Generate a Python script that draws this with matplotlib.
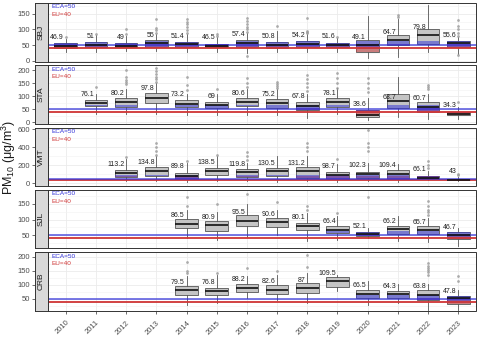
import matplotlib
matplotlib.use("Agg")
import matplotlib.pyplot as plt
from matplotlib.patches import Rectangle

plt.rcParams['font.family'] = ['Liberation Sans', 'DejaVu Sans']
plt.rcParams['mathtext.fontset'] = 'custom'
plt.rcParams['mathtext.rm'] = 'Liberation Sans'

years = list(range(2010, 2024))
stations = ['SBJ', 'STA', 'VMT', 'SJL', 'CRB']

# (whislo, q1, median, q3, whishi) per year, None = no data
sbj_box = [(28, 42, 47, 58, 70), (28, 45, 50, 60, 82), (32, 43, 48, 58, 80), (32, 45, 56, 65, 86),
           (28, 43, 53, 60, 86), (28, 43, 47, 55, 75), (25, 45, 56, 65, 88), (28, 41, 50, 60, 95),
           (27, 45, 55, 62, 84), (28, 45, 50, 58, 72), (8, 27, 50, 67, 142), (12, 50, 66, 81, 132),
           (29, 53, 81, 102, 178), (22, 45, 56, 62, 76)]
sbj_mean = [46.9, 51, 49, 55, 51.4, 46.5, 57.4, 50.8, 54.2, 51.6, 49.1, 64.7, 79.8, 55.6]
sbj_out = [[75], [85], [84, 102], [90, 98, 106, 134], [88, 98, 109, 117, 125, 134], [78, 87],
           [17, 92, 100, 108, 118, 128, 137], [112], [88, 92, 95, 137], [77], [], [140, 147], [], [19, 79, 90, 100, 112, 131]]

sta_box = [None, (33, 62, 73, 85, 107), (33, 60, 79, 93, 126), (33, 73, 95, 111, 151),
           (27, 58, 72, 85, 110), (30, 56, 67, 80, 107), (30, 64, 79, 93, 126), (30, 56, 73, 89, 126),
           (18, 46, 62, 79, 107), (33, 58, 77, 93, 132), (8, 21, 27, 46, 95), (22, 56, 83, 107, 175),
           (15, 40, 58, 77, 110), (15, 27, 32, 40, 60)]
sta_mean = [None, 76.1, 80.2, 97.8, 73.2, 69, 80.6, 75.2, 67.8, 78.1, 38.6, 63.7, 60.7, 34.3]
sta_out = [[], [136], [145, 155, 163, 172, 200], [155, 165, 175, 185, 196, 206], [125, 144, 175], [128],
           [135, 150, 170], [130, 138, 146, 153], [120, 135, 150, 166, 181], [133, 150, 170, 188],
           [115, 130, 150, 170], [], [126, 135, 144], [77]]

vmt_box = [None, None, (25, 72, 114, 150, 267), (25, 78, 136, 179, 303), (20, 46, 78, 114, 230),
           (25, 89, 142, 168, 303), (25, 72, 125, 160, 230), (20, 82, 136, 168, 303),
           (25, 64, 136, 185, 303), (20, 54, 96, 125, 221), (25, 64, 100, 125, 230),
           (20, 54, 100, 150, 214), (35, 46, 61, 82, 142), (30, 39, 43, 54, 75)]
vmt_mean = [None, None, 113.2, 134.8, 89.8, 138.5, 119.8, 130.5, 131.2, 98.7, 102.3, 109.4, 66.1, 43]
vmt_out = [[], [], [292], [321, 360, 400, 446], [245], [320], [260, 300, 346], [],
           [356, 400, 446], [267], [356, 400, 446, 588], [], [170, 200, 250], [89, 107]]

sjl_box = [None, None, None, None, (42, 73, 87, 102, 132), (35, 65, 82, 95, 125),
           (45, 79, 97, 116, 150), (50, 77, 91, 105, 132), (31, 66, 81, 90, 122),
           (35, 58, 68, 79, 110), (40, 47, 54, 60, 73), (31, 55, 70, 81, 110),
           (28, 54, 68, 79, 105), (15, 38, 51, 60, 73)]
sjl_mean = [None, None, None, None, 86.5, 80.9, 95.5, 90.6, 80.1, 66.4, 52.1, 66.2, 65.7, 46.7]
sjl_out = [[], [], [], [], [142, 173], [150], [183], [156], [132, 142], [121], [172], [],
           [116, 124, 132, 142, 161], []]

crb_box = [None, None, None, None, (29, 62, 80, 94, 130), (35, 62, 79, 88, 136),
           (54, 74, 90, 104, 130), (46, 67, 82, 98, 136), (35, 70, 88, 106, 142),
           (76, 92, 112, 127, 136), (29, 52, 67, 82, 112), (35, 52, 67, 78, 104),
           (11, 44, 64, 82, 104), (11, 31, 52, 61, 82)]
crb_mean = [None, None, None, None, 79.5, 76.8, 88.2, 82.6, 87, 109.5, 66.5, 64.3, 63.8, 47.8]
crb_out = [[], [], [], [], [142, 148, 183], [142], [160], [148], [163, 207], [], [], [],
           [136, 145, 152, 160, 168, 177], [112, 130]]

boxes = [sbj_box, sta_box, vmt_box, sjl_box, crb_box]
means = [sbj_mean, sta_mean, vmt_mean, sjl_mean, crb_mean]
outs = [sbj_out, sta_out, vmt_out, sjl_out, crb_out]
yticks = [[0, 50, 100, 150], [0, 50, 100, 150, 200], [0, 200, 400, 600], [50, 100, 150], [50, 100, 150, 200]]
ylims = [(-2, 184), (-5, 218), (-30, 620), (8, 195), (7, 217)]

ECA, EU = 50, 40
blue = '#3030d8'
red = '#d03838'
W, H = 480, 346

fig = plt.figure(figsize=(W / 100, H / 100), dpi=100)
left, right = 47.6, 476.4
tops = [3.0, 65.3, 127.6, 189.9, 252.2]
ph = 58.5
sw = 12.5

for i, st in enumerate(stations):
    b = 1 - (tops[i] + ph) / H
    ax = fig.add_axes([left / W, b, (right - left) / W, ph / H])
    ax.set_xlim(0.4, len(years) + 0.6)
    ax.set_ylim(*ylims[i])
    pos = [k + 1 for k, bx in enumerate(boxes[i]) if bx is not None]
    stats = []
    for k, bx in enumerate(boxes[i]):
        if bx is None:
            continue
        stats.append(dict(whislo=bx[0], q1=bx[1], med=bx[2], q3=bx[3], whishi=bx[4],
                          fliers=outs[i][k]))
    ax.axhline(EU, color=red, lw=1.4, zorder=3, alpha=0.95)
    ax.axhline(ECA, color=blue, lw=1.4, zorder=3, alpha=0.65)
    bp = ax.bxp(stats, positions=pos, widths=0.75, patch_artist=True, showcaps=False,
                boxprops=dict(facecolor='#c4c4c4', edgecolor='#555555', lw=0.6),
                medianprops=dict(color='#111111', lw=1.2, zorder=3.5),
                whiskerprops=dict(color='#555555', lw=0.6),
                flierprops=dict(marker='o', markersize=2, markerfacecolor='#9a9a9a',
                                markeredgecolor='none', alpha=0.8), zorder=2)
    # tint of the threshold bands seen through the boxes
    d = (ylims[i][1] - ylims[i][0]) * 4.0 / ph
    for patch in bp['boxes']:
        for lvl, c in ((EU, red), (ECA, blue)):
            sp = ax.axhspan(lvl - d, lvl + d, color=c, alpha=0.5, lw=0, zorder=2.5)
            sp.set_clip_path(patch)
    for k, m in enumerate(means[i]):
        if m is None:
            continue
        ax.annotate(f'{m:g}', (k + 1, m), xytext=(-1.2, 6), textcoords='offset points',
                    ha='right', va='center', fontsize=5, color='#222222', zorder=4)
    ax.text(0.008, 0.935, f'ECA={ECA}', transform=ax.transAxes, color=blue, fontsize=4.6, va='center')
    ax.text(0.008, 0.805, f'EU={EU}', transform=ax.transAxes, color=red, fontsize=4.6, va='center')

    yt = yticks[i]
    ax.set_yticks(yt)
    ax.set_yticks([(yt[j] + yt[j + 1]) / 2 for j in range(len(yt) - 1)] +
                  [yt[0] - (yt[1] - yt[0]) / 2, yt[-1] + (yt[1] - yt[0]) / 2], minor=True)
    ax.set_ylim(*ylims[i])
    ax.set_xticks(range(1, len(years) + 1))
    ax.grid(True, which='major', color='#ebebeb', lw=0.6, zorder=0)
    ax.grid(True, which='minor', axis='y', color='#f2f2f2', lw=0.4, zorder=0)
    ax.set_axisbelow(True)
    for s in ax.spines.values():
        s.set_visible(False)
    ax.spines['left'].set_position(('outward', sw * 0.72))
    ax.add_patch(Rectangle((0, 0), 1, 1, transform=ax.transAxes, fill=False,
                           ec='#333333', lw=0.7, zorder=5, clip_on=False))
    ax.tick_params(axis='y', which='major', labelsize=5.5, labelcolor='#4d4d4d', color='#333333',
                   length=2.5, width=0.5, pad=1)
    ax.tick_params(axis='y', which='minor', length=0)
    ax.tick_params(axis='x', labelsize=5.5, labelcolor='#4d4d4d', color='#333333', length=2.5, width=0.5)
    if i < len(stations) - 1:
        ax.tick_params(axis='x', labelbottom=False, length=0)
    else:
        ax.set_xticklabels([str(y) for y in years], rotation=45, ha='right', rotation_mode='anchor')

    sax = fig.add_axes([(left - sw) / W, b, sw / W, ph / H])
    sax.set_facecolor('#d9d9d9')
    sax.set_xticks([])
    sax.set_yticks([])
    for s in sax.spines.values():
        s.set_color('#333333')
        s.set_linewidth(0.7)
    sax.text(0.5, 0.5, st, rotation=90, ha='center', va='center', fontsize=6,
             color='#1a1a1a', transform=sax.transAxes)

fig.text(0.018, 1 - ((tops[0] + tops[-1] + ph) / 2) / H, r'PM$_{\mathregular{10}}$ (μg/m$^{\mathregular{3}}$)',
         rotation=90, ha='center', va='center', fontsize=9, color='#1a1a1a')

fig.savefig('out.png', dpi=100)
